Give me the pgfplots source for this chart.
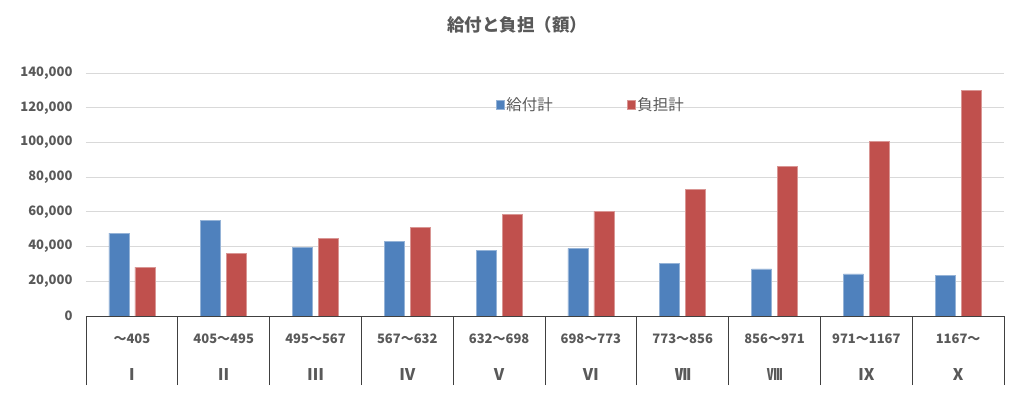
\documentclass[border=0pt]{standalone}
\usepackage{fontspec}
\setmainfont{Noto Sans CJK JP}
\usepackage{pgfplots}
\pgfplotsset{compat=1.18}
\definecolor{txt}{HTML}{595959}
\definecolor{gridc}{HTML}{D9D9D9}
\definecolor{axisc}{HTML}{404040}
\definecolor{barblue}{HTML}{4F81BD}
\definecolor{barred}{HTML}{C0504D}
\newcommand{\rn}[1]{{\fontsize{16}{16}\selectfont #1}}
\begin{document}
\begin{tikzpicture}
\useasboundingbox (-86pt,-82pt) rectangle (938pt,316pt);
\begin{axis}[
  at={(0pt,0pt)}, anchor=south west,
  scale only axis, width=918pt, height=243pt,
  xmin=0.5, xmax=10.5, ymin=0, ymax=140000,
  axis lines*=left,
  y axis line style={draw=none},
  x axis line style={draw=axisc, line width=0.8pt},
  ybar, bar width=20pt,
  ytick={0,20000,...,140000},
  ymajorgrids, grid style={draw=gridc, line width=0.8pt},
  major tick length=0pt,
  tick align=outside,
  scaled y ticks=false,
  yticklabel={\pgfmathprintnumber[1000 sep={,},assume math mode=true,fixed]{\tick}},
  yticklabel style={font=\bfseries\fontsize{13}{13}\selectfont, text=txt, xshift=-10pt},
  xtick={1,...,10},
  xticklabels={〜405,405〜495,495〜567,567〜632,632〜698,698〜773,773〜856,856〜971,971〜1167,1167〜},
  xticklabel style={font=\bfseries\fontsize{13}{13}\selectfont, text=txt, yshift=-14pt},
  extra x ticks={1,...,10},
  extra x tick labels={\rn{Ⅰ},\rn{Ⅱ},\rn{Ⅲ},\rn{Ⅳ},\rn{Ⅴ},\rn{Ⅵ},\rn{Ⅶ},\rn{Ⅷ},\rn{Ⅸ},\rn{Ⅹ}},
  extra x tick style={xticklabel style={yshift=-35pt}},
  minor xtick={0.5,1.5,...,10.5},
  minor tick length=69pt,
  minor tick style={draw=axisc, line width=0.8pt},
  title={給付と負担（額）},
  title style={at={(0.47,1.198)}, anchor=center, yshift=-6pt, font=\bfseries\fontsize{17.5}{17.5}\selectfont, text=txt},
  legend style={at={(0.443,0.868)}, anchor=west, draw=none, fill=none, legend columns=2,
    font=\fontsize{15.5}{15.5}\selectfont, text=txt,
    /tikz/every even column/.append style={column sep=72pt}},
  legend image code/.code={\fill[#1] (0pt,-4.5pt) rectangle (8pt,4.5pt);},
]
\addplot[fill=barblue, draw=barblue!60!white, line width=0.5pt, bar shift=-13pt] coordinates {
(1,47800) (2,54900) (3,39750) (4,43200) (5,38000) (6,38900) (7,30500) (8,27100) (9,24200) (10,23200)};
\addplot[fill=barred, draw=barred!60!white, line width=0.5pt, bar shift=13pt] coordinates {
(1,28200) (2,36100) (3,44750) (4,51000) (5,58400) (6,60200) (7,72800) (8,86400) (9,100600) (10,130200)};
\legend{給付計,負担計}
\end{axis}
\end{tikzpicture}
\end{document}
